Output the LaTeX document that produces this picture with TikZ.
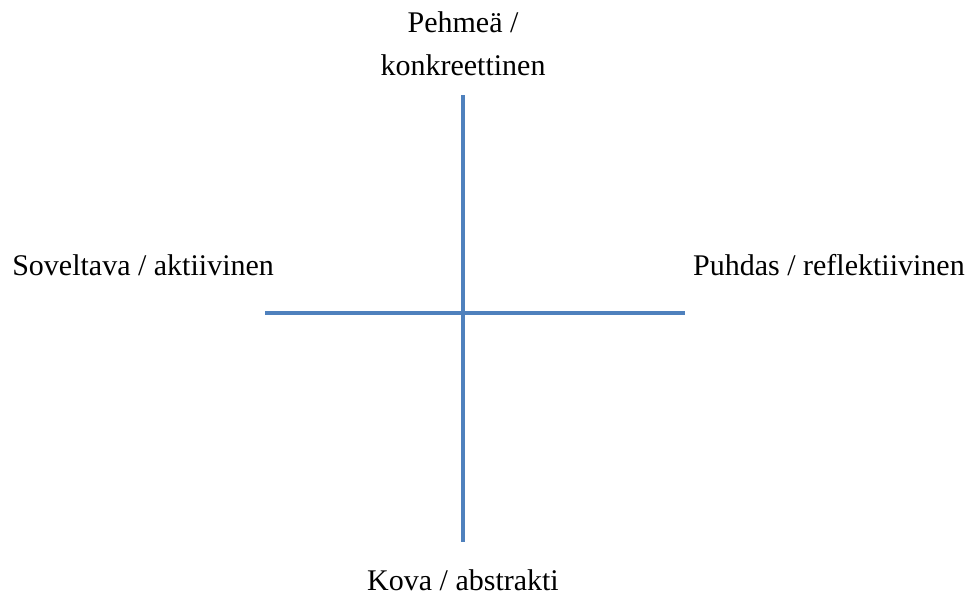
\documentclass[tikz,border=0pt]{standalone}
\usepackage{fontspec}
\setmainfont{Liberation Serif}
\usetikzlibrary{positioning}

\definecolor{axisblue}{HTML}{4F81BD}
\tikzset{
  axisline/.style={draw=axisblue,line width=3pt},
  pole/.style={font=\fontsize{22.5}{32}\selectfont,inner sep=0pt,align=center}
}

\begin{document}
\begin{tikzpicture}[x=0.75pt,y=-0.75pt]
  \useasboundingbox (0,0) rectangle (968,597);
  % akselien päät
  \coordinate (top) at (463,95);
  \coordinate (bottom) at (463,542);
  \coordinate (left) at (265,313);
  \coordinate (right) at (685,313);
  \draw[axisline] (top) -- (bottom);
  \draw[axisline] (left) -- (right);
  % navat
  \node[pole,anchor=base] (soft) at (463,75) {Pehmeä /\\konkreettinen};
  \node[pole,anchor=base west] (applied) at (12,275) {Soveltava / aktiivinen};
  \node[pole,anchor=base east] (pure) at (965,275) {Puhdas / reflektiivinen};
  \node[pole,anchor=base] (hard) at (463,590) {Kova / abstrakti};
\end{tikzpicture}
\end{document}
